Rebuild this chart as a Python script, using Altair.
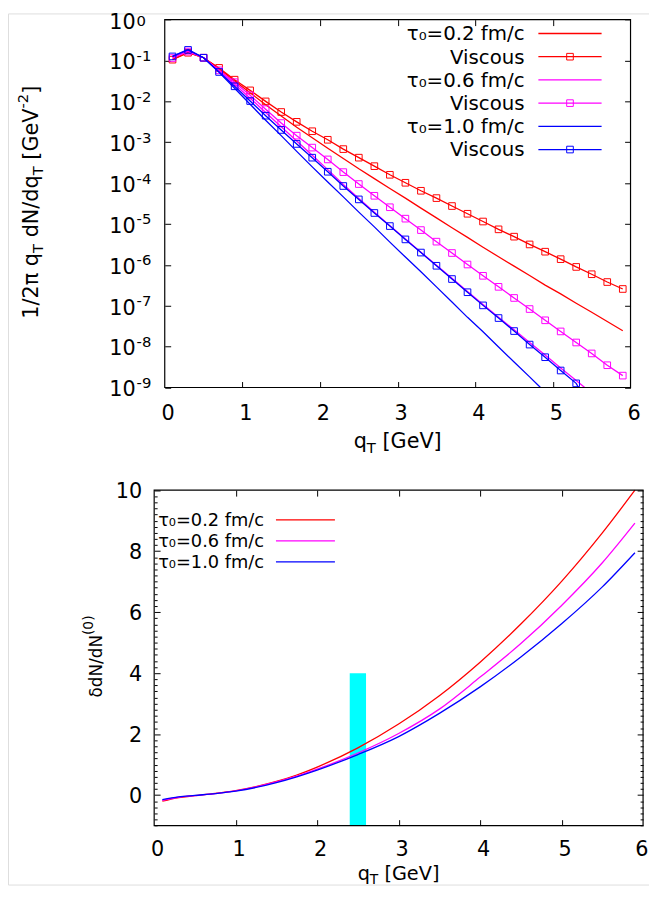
import altair as alt
import pandas as pd

FONT = "DejaVu Sans"
RED, MAGENTA, BLUE, CYAN = "#ff0000", "#ff00ff", "#0000ff", "#00ffff"

# ---------------- top panel data: 1/2pi qT dN/dqT [GeV^-2] ----------------
qT = [0.1, 0.3, 0.5, 0.7, 0.9, 1.1, 1.3, 1.5, 1.7, 1.9, 2.1, 2.3, 2.5, 2.7, 2.9,
      3.1, 3.3, 3.5, 3.7, 3.9, 4.1, 4.3, 4.5, 4.7, 4.9, 5.1, 5.3, 5.5, 5.7, 5.9]

ideal_02 = [0.107, 0.158, 0.117, 0.063, 0.0316, 0.0162, 0.0083, 0.00437, 0.00234, 0.00129,
            7.1e-4, 4.0e-4, 2.24e-4, 1.29e-4, 7.4e-5, 4.3e-5, 2.45e-5, 1.41e-5, 8.1e-6, 4.7e-6,
            2.7e-6, 1.58e-6, 9.3e-7, 5.5e-7, 3.2e-7, 1.95e-7, 1.15e-7, 6.9e-8, 4.1e-8, 2.45e-8]
visc_02 = [0.105, 0.155, 0.117, 0.066, 0.034, 0.0186, 0.0100, 0.0055, 0.00316, 0.00186,
           1.15e-3, 6.8e-4, 4.2e-4, 2.6e-4, 1.6e-4, 1.02e-4, 6.5e-5, 4.3e-5, 2.75e-5, 1.78e-5,
           1.15e-5, 7.4e-6, 4.9e-6, 3.16e-6, 2.1e-6, 1.38e-6, 8.9e-7, 5.9e-7, 3.8e-7, 2.57e-7]
ideal_06 = [0.117, 0.174, 0.117, 0.056, 0.0263, 0.0120, 0.00537, 0.0024, 0.00107, 4.8e-4,
            2.14e-4, 9.3e-5, 4.2e-5, 1.95e-5, 9.1e-6, 4.3e-6, 2.04e-6, 9.8e-7, 4.7e-7, 2.24e-7,
            1.07e-7, 5.25e-8, 2.57e-8, 1.26e-8, 6.2e-9, 3.0e-9, 1.48e-9]
visc_06 = [0.115, 0.166, 0.117, 0.0575, 0.0295, 0.0141, 0.00646, 0.00295, 0.00145, 7.4e-4,
           3.8e-4, 1.86e-4, 9.5e-5, 4.9e-5, 2.57e-5, 1.35e-5, 7.1e-6, 3.7e-6, 1.95e-6, 1.02e-6,
           5.4e-7, 2.9e-7, 1.55e-7, 8.3e-8, 4.4e-8, 2.35e-8, 1.26e-8, 6.8e-9, 3.5e-9, 1.95e-9]
ideal_10 = [0.126, 0.186, 0.117, 0.0513, 0.0209, 0.0085, 0.00347, 0.00145, 6.0e-4, 2.5e-4,
            1.07e-4, 4.6e-5, 1.95e-5, 8.5e-6, 3.6e-6, 1.55e-6, 6.8e-7, 2.9e-7, 1.23e-7, 5.2e-8,
            2.3e-8, 9.8e-9, 4.2e-9, 1.82e-9]
visc_10 = [0.126, 0.182, 0.117, 0.0525, 0.0234, 0.0102, 0.00447, 0.0020, 9.1e-4, 4.2e-4,
           1.9e-4, 8.5e-5, 4.0e-5, 1.86e-5, 8.9e-6, 4.2e-6, 2.0e-6, 9.5e-7, 4.5e-7, 2.14e-7,
           1.02e-7, 5.0e-8, 2.4e-8, 1.12e-8, 5.5e-9, 2.6e-9, 1.26e-9]
# where the curves leave the frame through the bottom edge
exit_ideal_06 = 5.41
exit_visc_10 = 5.33
exit_ideal_10 = 4.84

top_legend_labels = ["τ₀=0.2 fm/c", "Viscous", "τ₀=0.6 fm/c", "Viscous", "τ₀=1.0 fm/c", "Viscous"]
top_x_limits = [0, 6]
top_y_limits = [1e-9, 1]
top_x_ticks = [0, 1, 2, 3, 4, 5, 6]
top_y_ticks = [1e-9, 1e-8, 1e-7, 1e-6, 1e-5, 1e-4, 1e-3, 1e-2, 1e-1, 1]

# ---------------- bottom panel data: delta dN / dN(0) ----------------
bx = [0.1, 0.3, 0.5, 0.75, 1.0, 1.25, 1.5, 1.75, 2.0, 2.5, 3.0, 3.5, 4.0, 4.5, 5.0, 5.5, 5.9]
ratio_02 = [-0.20, -0.08, -0.02, 0.055, 0.15, 0.28, 0.45, 0.66, 0.92, 1.55, 2.33, 3.26, 4.36, 5.61, 7.01, 8.60, 10.0]
ratio_06 = [-0.17, -0.07, -0.02, 0.05, 0.14, 0.27, 0.43, 0.62, 0.85, 1.38, 2.02, 2.82, 3.87, 4.97, 6.22, 7.62, 8.92]
ratio_10 = [-0.15, -0.06, -0.01, 0.05, 0.13, 0.25, 0.41, 0.60, 0.82, 1.33, 1.92, 2.68, 3.55, 4.53, 5.62, 6.83, 7.95]
band_x = [2.4, 2.6]
band_y = [-1.0, 4.0]
bottom_legend_labels = ["τ₀=0.2 fm/c", "τ₀=0.6 fm/c", "τ₀=1.0 fm/c"]
bot_x_limits = [0, 6]
bot_y_limits = [-1, 10]
bot_x_ticks = [0, 1, 2, 3, 4, 5, 6]
bot_y_ticks = [0, 2, 4, 6, 8, 10]

# ---------------- geometry (drawing area = whole page minus 8px margin) ----------------
CW, CH = 649, 882
P1 = dict(L=158.7, R=630.3, T=6.3, B=378.7)     # top plot frame
P2 = dict(L=148.0, R=643.0, T=482.7, B=822.3)   # bottom plot frame

# DejaVu Sans advance widths (em) used to chain sub/superscript pieces of titles
WID = {'1': .636, '2': .636, '0': .636, '/': .337, 'π': .602, ' ': .318, 'q': .635,
       'T': .611, 'd': .635, 'N': .748, '[': .390, ']': .390, 'G': .775, 'e': .615,
       'V': .684, '-': .361, 'δ': .612, '(': .390, ')': .390}


def width(s, size):
    return sum(WID.get(ch, 0.6) for ch in s) * size


def text_layer(txt, x, y, size, angle=0, align="left", baseline="alphabetic"):
    return alt.Chart(alt.Data(values=[{"t": txt}])).mark_text(
        align=align, baseline=baseline, angle=angle, fontSize=size, font=FONT, color="black"
    ).encode(x=alt.value(x), y=alt.value(y), text="t:N")


def hpieces(pieces, x0, y0):
    out, x = [], x0
    for txt, size, shift in pieces:
        lead = len(txt) - len(txt.lstrip(" "))
        out.append(text_layer(txt.lstrip(" "), x + lead * WID[' '] * size, y0 + shift, size))
        x += width(txt, size)
    return out


def vpieces(pieces, x0, y0):
    out, y = [], y0
    for txt, size, shift in pieces:
        lead = len(txt) - len(txt.lstrip(" "))
        out.append(text_layer(txt.lstrip(" "), x0 + shift, y - lead * WID[' '] * size, size, angle=270))
        y -= width(txt, size)
    return out


def ax(**kw):
    base = dict(grid=False, domain=False, title=None, labelFont=FONT, labelColor="black",
                tickColor="black", tickWidth=1, labelOverlap=False, labelFlush=False)
    base.update(kw)
    return alt.Axis(**base)


# axis offsets that put an axis of a given orient at a given pixel line
def off_left(x): return -x
def off_right(x): return x - CW
def off_top(y): return -y
def off_bottom(y): return y - CH


def tick_axis(orient, offset, values, size):
    return ax(orient=orient, offset=offset, values=values, labels=False, ticks=True,
              tickSize=size, minExtent=0, maxExtent=size)


def label_axis(orient, offset, values, **kw):
    return ax(orient=orient, offset=offset, values=values, ticks=False, tickSize=0,
              minExtent=0, **kw)


def frame(xs, ys):
    return pd.DataFrame({"qT": xs[:len(ys)], "val": ys})


def axis_layer(data, xs, ys, xaxis=None, yaxis=None):
    return alt.Chart(data).mark_point(opacity=0).encode(
        x=alt.X("qT:Q", scale=xs, axis=xaxis),
        y=alt.Y("val:Q", scale=ys, axis=yaxis))


def border(xlim, ylim, xs, ys):
    d = pd.DataFrame({"x0": [xlim[0]], "x1": [xlim[1]], "y0": [ylim[0]], "y1": [ylim[1]]})
    return alt.Chart(d).mark_rect(fillOpacity=0, stroke="black", strokeWidth=1.2).encode(
        x=alt.X("x0:Q", scale=xs, axis=None), x2="x1:Q",
        y=alt.Y("y0:Q", scale=ys, axis=None), y2="y1:Q")


layers = []

# ================= top panel =================
xs1 = alt.Scale(domain=top_x_limits, range=[P1["L"], P1["R"]], nice=False, zero=False)
ys1 = alt.Scale(type="log", domain=top_y_limits, range=[P1["B"], P1["T"]], nice=False)
d0 = frame(qT, visc_02)

layers += [
    axis_layer(d0, xs1, ys1,
               xaxis=label_axis("bottom", off_bottom(P1["B"]), top_x_ticks, labelFontSize=21,
                                labelPadding=15, labelOffset=3),
               yaxis=label_axis("left", off_left(P1["L"]), top_y_ticks, labelExpr="'10'",
                                labelAlign="right", labelBaseline="middle", labelPadding=30,
                                labelOffset=2.5, labelFontSize=21)),
    axis_layer(d0, xs1, ys1,
               yaxis=label_axis("left", off_left(P1["L"]), top_y_ticks[:-1],
                                labelExpr="'' + round(log(datum.value)/LN10)", labelAlign="left",
                                labelBaseline="middle", labelPadding=29, labelOffset=-5,
                                labelFontSize=15)),
    axis_layer(d0, xs1, ys1,
               yaxis=label_axis("left", off_left(P1["L"]), top_y_ticks[-1:],
                                labelExpr="'' + round(log(datum.value)/LN10)", labelAlign="left",
                                labelBaseline="middle", labelPadding=29, labelOffset=0.5,
                                labelFontSize=15)),
    axis_layer(d0, xs1, ys1,
               xaxis=tick_axis("top", off_top(P1["B"]), top_x_ticks[1:-1], 6),
               yaxis=tick_axis("right", off_right(P1["L"]), top_y_ticks, 6)),
    axis_layer(d0, xs1, ys1,
               xaxis=tick_axis("bottom", off_bottom(P1["T"]), top_x_ticks[1:-1], 6),
               yaxis=tick_axis("left", off_left(P1["R"]), top_y_ticks, 6)),
]

series = [(ideal_02, None, RED, False), (visc_02, None, RED, True),
          (ideal_06, exit_ideal_06, MAGENTA, False), (visc_06, None, MAGENTA, True),
          (ideal_10, exit_ideal_10, BLUE, False), (visc_10, exit_visc_10, BLUE, True)]
for vals, exit_x, c, mk in series:
    d = frame(qT, vals)
    dl = d if exit_x is None else pd.concat(
        [d, pd.DataFrame({"qT": [exit_x], "val": [top_y_limits[0]]})], ignore_index=True)
    enc = dict(x=alt.X("qT:Q", scale=xs1, axis=None), y=alt.Y("val:Q", scale=ys1, axis=None))
    layers.append(alt.Chart(dl).mark_line(color=c, strokeWidth=1.3).encode(**enc))
    if mk:
        layers.append(alt.Chart(d).mark_point(shape="square", filled=False, size=45, color=c,
                                              strokeWidth=1, opacity=1).encode(**enc))

layers.append(border(top_x_limits, top_y_limits, xs1, ys1))

leg_colors = [RED, RED, MAGENTA, MAGENTA, BLUE, BLUE]
for i, lab in enumerate(top_legend_labels):
    yy = 20.3 + 23.5 * i
    one = alt.Data(values=[{"t": lab}])
    layers.append(text_layer(lab, 523, yy + 1, 20, align="right", baseline="middle"))
    layers.append(alt.Chart(one).mark_rule(color=leg_colors[i], strokeWidth=1.3).encode(
        x=alt.value(537), x2=alt.value(601), y=alt.value(yy)))
    if lab == "Viscous":
        layers.append(alt.Chart(one).mark_point(shape="square", filled=False, size=45,
                                                color=leg_colors[i], strokeWidth=1, opacity=1).encode(
            x=alt.value(569), y=alt.value(yy)))

layers += hpieces([("q", 21, 0), ("T", 15, 5), (" [GeV]", 21, 0)],
                  (P1["L"] + P1["R"]) / 2 - 44.5, 440)
layers += vpieces([("1/2π q", 21, 0), ("T", 15, 5), (" dN/dq", 21, 0), ("T", 15, 5),
                   (" [GeV", 21, 0), ("-2", 15, -10), ("]", 21, 0)], 30, 309)

# ================= bottom panel =================
xs2 = alt.Scale(domain=bot_x_limits, range=[P2["L"], P2["R"]], nice=False, zero=False)
ys2 = alt.Scale(domain=bot_y_limits, range=[P2["B"], P2["T"]], nice=False, zero=False)
b0 = frame(bx, ratio_02)
minor = [round(-1 + 0.2 * i, 1) for i in range(56) if round(-1 + 0.2 * i, 1) not in bot_y_ticks]

layers += [
    axis_layer(b0, xs2, ys2,
               xaxis=label_axis("bottom", off_bottom(P2["B"]), bot_x_ticks[:-1], labelFontSize=21,
                                labelPadding=13.5, labelOffset=3),
               yaxis=label_axis("left", off_left(P2["L"]), bot_y_ticks, labelAlign="right",
                                labelBaseline="middle", labelPadding=12.7, labelOffset=1,
                                labelFontSize=21)),
    axis_layer(b0, xs2, ys2,
               xaxis=label_axis("bottom", off_bottom(P2["B"]), bot_x_ticks[-1:], labelFontSize=21,
                                labelPadding=13.5, labelAlign="right", labelOffset=5)),
    axis_layer(b0, xs2, ys2,
               xaxis=tick_axis("top", off_top(P2["B"]), bot_x_ticks[1:-1], 6),
               yaxis=tick_axis("right", off_right(P2["L"]), bot_y_ticks, 6)),
    axis_layer(b0, xs2, ys2,
               xaxis=tick_axis("bottom", off_bottom(P2["T"]), bot_x_ticks[1:-1], 6),
               yaxis=tick_axis("left", off_left(P2["R"]), bot_y_ticks, 6)),
    axis_layer(b0, xs2, ys2, yaxis=tick_axis("right", off_right(P2["L"]), minor, 3)),
    axis_layer(b0, xs2, ys2, yaxis=tick_axis("left", off_left(P2["R"]), minor, 3)),
]

band = pd.DataFrame({"x0": [band_x[0]], "x1": [band_x[1]], "y0": [band_y[0]], "y1": [band_y[1]]})
layers.append(alt.Chart(band).mark_rect(color=CYAN).encode(
    x=alt.X("x0:Q", scale=xs2, axis=None), x2="x1:Q",
    y=alt.Y("y0:Q", scale=ys2, axis=None), y2="y1:Q"))

bcolors = [RED, MAGENTA, BLUE]
for vals, c in zip([ratio_02, ratio_06, ratio_10], bcolors):
    layers.append(alt.Chart(frame(bx, vals)).mark_line(color=c, strokeWidth=1.3,
                                                       interpolate="monotone").encode(
        x=alt.X("qT:Q", scale=xs2, axis=None), y=alt.Y("val:Q", scale=ys2, axis=None)))

layers.append(border(bot_x_limits, bot_y_limits, xs2, ys2))

for i, lab in enumerate(bottom_legend_labels):
    yy = 512.7 + 21.3 * i
    one = alt.Data(values=[{"t": lab}])
    layers.append(text_layer(lab, 152, yy + 1, 18, align="left", baseline="middle"))
    layers.append(alt.Chart(one).mark_rule(color=bcolors[i], strokeWidth=1.3).encode(
        x=alt.value(271.3), x2=alt.value(331), y=alt.value(yy)))

layers += hpieces([("q", 19.5, 0), ("T", 14, 4), (" [GeV]", 19.5, 0)],
                  (P2["L"] + P2["R"]) / 2 - 41.5, 877.5)
layers += vpieces([("δdN/dN", 17, 0), ("(0)", 14, -9)], 95, 692.5)

chart = alt.layer(*layers).resolve_scale(x="independent", y="independent").properties(
    width=CW, height=CH, autosize=alt.AutoSizeParams(type="none"),
    padding={"left": 0, "top": 0, "right": 0, "bottom": 0}, background="transparent"
).configure_view(stroke="transparent", strokeWidth=0).configure(font=FONT)

chart.save("out.html", embed_options={"renderer": "svg", "actions": False})
